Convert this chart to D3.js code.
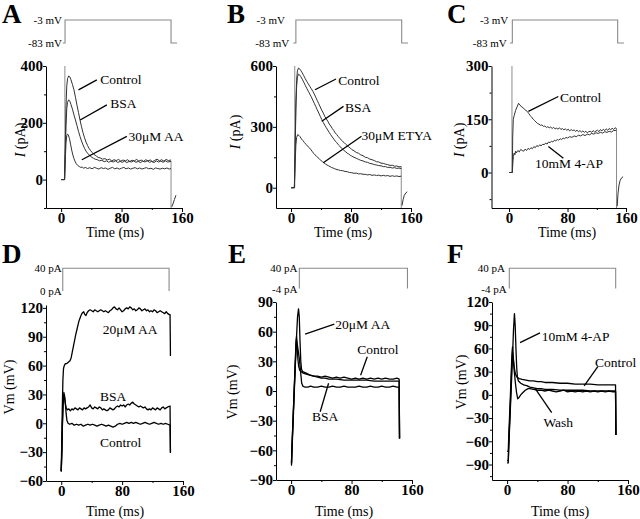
<!DOCTYPE html>
<html><head><meta charset="utf-8">
<script src="https://cdn.jsdelivr.net/npm/d3@7"></script>
<style>
body{margin:0;background:#fff}
svg{display:block}
text{font-family:"Liberation Serif","Times New Roman",serif;fill:#000}
</style>
</head><body>
<svg width="640" height="519"></svg>
<script>
// ---------------- DATA ----------------
const xTicks = [0, 80, 160];
const xMinor = [40, 120];
const yTicksA = [0, 200, 400],  yMinorA = [-100, 100, 300];
const yTicksB = [0, 300, 600],  yMinorB = [150, 450];
const yTicksC = [0, 150, 300],  yMinorC = [-75, 75, 225];
const yTicksD = [-60, -30, 0, 30, 60, 90, 120], yMinorD = [-45, -15, 15, 45, 75, 105];
const yTicksE = [-90, -60, -30, 0, 30, 60, 90], yMinorE = [-75, -45, -15, 15, 45, 75];
const yTicksF = [-90, -60, -30, 0, 30, 60, 90, 120], yMinorF = [-105, -75, -45, -15, 15, 45, 75, 105];

// Panel A: current (pA) vs time (ms)
const A_control = [[0,0],[4.5,0],[5.5,120],[6.5,260],[7.5,330],[8.5,355],[10,365],[11.5,362],[13,352],[15,335],[17,316],[19,290],[21,262],[23,236],[25,210],[27,186],[29,165],[31,147],[33,132],[35,120],[37,110],[39,102],[41,96],[43,90],[45,86],[47,82],[49,78],[52,76],[55,72],[58,74],[61,69],[64,72],[67,66],[70,70],[73,67],[76,71],[79,65],[82,69],[85,66],[88,70],[91,64],[94,68],[97,66],[100,71],[103,65],[106,69],[109,64],[112,70],[115,66],[118,69],[121,63],[124,68],[127,72],[130,66],[133,70],[136,65],[139,71],[142,67],[145.5,69]];
const A_bsa = [[0,0],[4.5,0],[5.5,90],[6.5,190],[7.5,250],[8.5,272],[10,281],[11.5,276],[13,265],[15,248],[17,228],[19,210],[21,190],[23,170],[25,152],[27,136],[29,122],[31,110],[33,100],[35,93],[37,87],[39,82],[41,78],[43,75],[45,72],[48,70],[51,66],[54,68],[57,63],[60,66],[63,61],[66,65],[69,62],[72,66],[75,60],[78,64],[81,61],[84,65],[87,60],[90,64],[93,62],[96,66],[99,61],[102,64],[105,60],[108,65],[111,62],[114,66],[117,61],[120,64],[123,60],[126,66],[129,62],[132,65],[135,61],[138,66],[141,62],[145.5,64]];
const A_aa = [[0,0],[4.5,0],[5.5,70],[6.5,130],[7.5,155],[8.5,160],[9.5,158],[11,145],[12.5,125],[14,104],[15.5,87],[17,74],[18.5,64],[20,56],[22,50],[24,46],[26,43],[28,44],[30,40],[32,43],[35,39],[38,42],[41,38],[44,43],[47,40],[50,37],[53,42],[56,39],[59,41],[62,36],[65,40],[68,43],[71,38],[74,41],[77,37],[80,40],[83,43],[86,38],[89,41],[92,37],[95,40],[98,42],[101,38],[104,41],[107,37],[110,40],[113,42],[116,38],[119,40],[122,36],[125,41],[128,39],[131,37],[134,40],[137,38],[140,41],[143,37],[145.5,39]];
const A_spike = [[5,0],[5,400]];
const A_off = [[145.5,66],[145.5,-100]];
const A_tail = [[146.5,-96],[148,-86],[150,-70],[152,-55]];
const A_proto = [[2.2,-83],[5.2,-83],[5.2,-3],[145.5,-3],[145.5,-83],[153.5,-83]];

// Panel B
const B_control = [[0,0],[4.5,0],[5.5,200],[6.5,420],[7.5,530],[8.5,575],[10,590],[11.5,586],[13,578],[15,566],[17,552],[19,538],[21,524],[23,512],[25,500],[27,488],[29,476],[31,462],[33,446],[35,430],[37,414],[39,398],[41,382],[43,368],[45,352],[47,340],[49,328],[51,314],[53,304],[55,292],[57,282],[59,270],[61,262],[63,252],[65,244],[67,235],[69,228],[71,222],[73,214],[75,208],[77,200],[79,196],[81,188],[84,182],[87,174],[90,170],[93,162],[96,158],[99,150],[102,148],[105,141],[108,138],[111,134],[114,128],[117,127],[120,121],[123,120],[126,116],[129,114],[132,110],[135,111],[138,106],[141,107],[144,103],[147,104]];
const B_bsa = [[0,0],[4.5,0],[5.5,180],[6.5,390],[7.5,500],[8.5,545],[10,560],[11.5,556],[13,548],[15,535],[17,520],[19,505],[21,490],[23,476],[25,462],[27,448],[29,432],[31,416],[33,400],[35,384],[37,368],[39,352],[41,336],[43,322],[45,308],[47,296],[49,284],[51,272],[53,261],[55,250],[57,240],[59,230],[61,222],[63,212],[65,205],[67,196],[69,190],[71,182],[73,177],[75,170],[77,166],[79,160],[81,156],[84,150],[87,145],[90,140],[93,135],[96,132],[99,127],[102,125],[105,120],[108,118],[111,114],[114,112],[117,109],[120,108],[123,104],[126,104],[129,100],[132,101],[135,97],[138,99],[141,95],[144,97],[147,94]];
const B_etya = [[0,0],[4.5,0],[5.5,120],[6.5,210],[7.5,248],[9,262],[10.5,258],[12,252],[14,240],[16,232],[18,222],[20,214],[22,206],[24,198],[26,190],[28,180],[30,170],[32,162],[34,155],[36,148],[38,141],[40,134],[42,128],[44,122],[46,117],[48,112],[50,108],[52,104],[54,100],[56,97],[58,94],[60,91],[63,88],[66,85],[69,84],[72,80],[75,79],[78,75],[81,74],[84,71],[87,72],[90,68],[93,69],[96,66],[99,66],[102,63],[105,65],[108,61],[111,63],[114,60],[117,62],[120,58],[123,61],[126,58],[129,60],[132,56],[135,59],[138,56],[141,58],[144,55],[147,57]];
const B_spike = [[5,0],[5,600]];
const B_off = [[147,104],[147,-100]];
const B_tail = [[148,-88],[149.5,-58],[151,-38],[153,-26],[155,-20]];
const B_proto = [[3,-83],[6.5,-83],[6.5,-3],[147.6,-3],[147.6,-83],[156,-83]];

// Panel C
const C_control = [[0,0],[4.5,0],[5,100],[5.8,150],[7,160],[9,175],[11,185],[13,195],[15,190],[17,185],[19,183],[21,178],[23,175],[25,172],[27,166],[29,160],[31,156],[33,150],[35,146],[37,142],[39,138],[41,136],[43,133],[45,134],[47,130],[49,131],[51,127],[53,129],[55,126],[57,128],[59,124],[61,127],[63,123],[65,125],[67,122],[69,126],[71,121],[73,124],[75,120],[77,123],[79,119],[81,122],[83,117],[85,121],[87,118],[89,120],[91,116],[93,119],[95,115],[97,118],[99,114],[101,117],[103,113],[105,116],[107,112],[109,115],[111,116],[113,113],[115,118],[117,114],[119,117],[121,119],[123,115],[125,121],[127,117],[129,122],[131,118],[133,123],[135,119],[137,124],[139,120],[141,125],[143,121],[145,126],[147,124]];
const C_4ap = [[0,0],[4.5,0],[5.3,30],[6,45],[7,55],[8,50],[9,60],[10,55],[12,62],[14,58],[16,65],[18,62],[20,60],[22,66],[24,62],[26,68],[28,65],[30,70],[32,67],[34,73],[36,70],[38,76],[40,73],[42,78],[44,75],[46,80],[48,78],[50,83],[52,80],[54,86],[56,84],[58,88],[60,86],[62,91],[64,89],[66,93],[68,91],[70,95],[72,93],[74,97],[76,95],[78,99],[80,97],[83,101],[86,99],[89,103],[92,101],[95,105],[98,103],[101,107],[104,104],[107,108],[110,106],[113,110],[116,108],[119,112],[122,110],[125,113],[128,111],[131,115],[134,113],[137,116],[140,114],[143,118],[147,119]];
const C_spike = [[4,0],[4,300]];
const C_off = [[147,124],[147,-100]];
const C_tail = [[148,-95],[149,-60],[150.5,-35],[152,-22],[154,-15],[156,-12]];
const C_proto = [[1.2,-83],[4.5,-83],[4.5,-3],[148.6,-3],[148.6,-83],[157.2,-83]];

// Panel D: membrane potential (mV)
const D_control = [[0,-50],[0.8,-30],[1.6,0],[2.5,20],[3.5,32],[4.5,28],[5.5,20],[6.5,10],[7.5,3],[9,0],[11,-1],[14,0],[17,-2],[20,-1],[23,-2],[26,-1],[29,-3],[32,-2],[35,-1],[38,-2],[41,-1],[44,-2],[47,-3],[50,-2],[53,-1],[56,-2],[59,-3],[62,-2],[65,-3],[68,-4],[71,-3],[74,-1],[77,0],[80,-1],[83,0],[86,1],[89,0],[92,1],[95,0],[98,1],[101,0],[104,-1],[107,0],[110,1],[113,0],[116,-1],[119,0],[122,1],[125,0],[128,-1],[131,0],[134,-1],[137,0],[140,-1],[143,-2],[143.5,-31]];
const D_bsa = [[0,-50],[0.8,-30],[1.6,0],[2.5,22],[3.5,30],[4.5,26],[5.5,20],[6.5,16],[8,14],[10,15],[12,13],[14,15],[16,14],[18,16],[20,15],[22,14],[24,16],[26,15],[28,14],[30,16],[32,15],[34,16],[36,17],[38,19],[40,16],[42,15],[44,17],[46,16],[48,15],[50,17],[52,16],[54,14],[56,15],[58,14],[60,13],[62,14],[64,16],[66,15],[68,14],[70,15],[72,17],[74,18],[76,17],[78,19],[80,18],[82,19],[84,17],[86,19],[88,20],[90,19],[92,21],[94,22],[96,20],[98,19],[100,18],[102,17],[104,18],[106,17],[108,16],[110,17],[112,15],[114,14],[116,15],[118,14],[120,16],[122,15],[124,14],[126,16],[128,15],[130,14],[132,16],[134,17],[136,15],[138,16],[140,17],[143,18],[143.5,-30]];
const D_aa = [[0,-50],[0.7,-20],[1.4,15],[2.2,45],[3,57],[4,60],[5.5,62],[7,62],[8.5,63],[10,64],[11.5,65],[13,68],[14.5,74],[16,80],[17.5,86],[19,92],[20.5,97],[22,102],[23.5,107],[25,110],[26.5,113],[28,115],[29.5,116],[31,113],[32.5,112],[34,115],[36,117],[38,118],[40,117],[42,116],[44,118],[46,117],[48,116],[50,117],[52,118],[54,117],[56,116],[58,117],[60,116],[62,115],[64,117],[66,118],[68,120],[70,121],[72,119],[74,118],[76,120],[78,118],[80,116],[82,117],[84,119],[86,120],[88,119],[90,121],[92,120],[94,118],[96,119],[98,117],[100,118],[102,120],[104,119],[106,117],[108,118],[110,119],[112,117],[114,118],[116,116],[118,117],[120,116],[122,118],[124,117],[126,115],[128,116],[130,117],[132,116],[134,115],[136,114],[138,116],[140,114],[142,113],[143,113],[143.5,70]];
const D_proto = [[2,0],[2,40],[141.7,40],[141.7,0]];

// Panel E
const E_aa = [[0,-75],[0.5,-75],[1.2,-60],[3,-25],[5,15],[7,52],[8.5,75],[9.8,83],[10.8,75],[11.8,50],[12.8,30],[13.8,22],[15,20],[17,19],[20,18],[25,16],[30,15],[35,14],[40,13],[45,13],[50,12],[55,12],[60,12],[70,11],[80,11],[90,11],[100,11],[110,10],[120,10],[130,10],[140,10],[143,10],[143.5,-48]];
const E_control = [[0,-73],[0.5,-73],[1.2,-55],[3,-20],[5,20],[6.5,50],[7.2,55],[8,45],[9,32],[10,25],[11.5,21],[13,20],[16,18],[20,17],[25,16],[30,15],[35,15],[40,14],[45,15],[50,14],[55,13],[60,14],[65,13],[70,14],[75,13],[80,12],[85,13],[90,12],[95,13],[100,12],[105,13],[110,12],[115,13],[120,12],[125,13],[130,12],[135,12],[140,13],[143,12],[143.5,-48]];
const E_bsa = [[0,-73],[0.5,-73],[1.2,-55],[3,-20],[5,18],[6.5,45],[7.2,52],[8,48],[9.5,40],[11,32],[12.5,20],[14,8],[15.5,5],[18,4],[22,4],[26,5],[30,4],[35,4],[40,5],[45,4],[50,4],[55,5],[60,4],[65,4],[70,5],[75,4],[80,4],[85,4],[90,5],[95,4],[100,4],[105,5],[110,4],[115,4],[120,5],[125,4],[130,4],[135,5],[140,4],[143,4],[143.5,-48]];
const E_proto = [[10.9,-4],[10.9,40],[154,40],[154,-4]];

// Panel F
const F_4ap = [[0,-88],[1.5,-88],[2.5,-60],[4,-25],[5.5,10],[7,45],[8.5,85],[9.7,105],[10.7,90],[11.7,60],[12.7,35],[13.7,22],[15,18],[18,15],[22,13],[26,12],[30,10],[35,9],[40,8],[45,8],[50,7],[60,7],[70,6],[80,6],[90,6],[100,6],[110,5],[120,5],[130,5],[140,5],[143.5,5],[144,-52]];
const F_control = [[0,-73],[1.5,-73],[2.5,-45],[4,-10],[5.5,30],[6.5,55],[7.2,62],[8,50],[9.5,35],[11,27],[13,23],[16,21],[20,20],[25,19],[30,18],[35,18],[40,17],[45,17],[50,16],[60,16],[70,15],[80,15],[90,14],[100,14],[110,14],[120,13],[130,13],[140,13],[143.5,13],[144,-52]];
const F_wash = [[0,-85],[1.5,-85],[2.5,-55],[4,-20],[5.5,20],[6.5,45],[7.3,55],[8.2,45],[9.5,30],[11,15],[12.5,3],[14,-5],[16,-3],[18,0],[20,2],[22,4],[24,6],[26,7],[28,8],[30,8],[35,7],[40,6],[45,6],[50,5],[55,6],[60,5],[65,4],[70,5],[75,6],[80,4],[85,5],[90,4],[95,5],[100,4],[105,5],[110,4],[115,5],[120,4],[125,5],[130,4],[135,5],[140,4],[143.5,4],[144,-52]];
const F_proto = [[2.9,-4],[2.9,40],[143.7,40],[143.7,-4]];

// Labels (text, t, value) and pointer lines (t1, v1, t2, v2)
const A_labels = [["Control",51.7,353],["BSA",65,269],["30\u03bcM AA",89.3,152]];
const A_pointers = [[23,316,47.3,351],[25.2,210,60.6,263],[27.4,70,87,152]];
const B_labels = [["Control",63,528],["BSA",72,393],["30\u03bcM ETYA",94,257]];
const B_pointers = [[32,483,60,536],[41,328,70,401],[43,123,94,254]];
const C_labels = [["Control",69.8,212],["10mM 4-AP",35.6,26]];
const C_pointers = [[26.4,172,67.4,214],[53.8,73,74.3,40]];
const D_labels = [["20\u03bcM AA",54.5,97.5],["BSA",51,28],["Control",51,-20]];
const D_pointers = [];
const E_labels = [["20\u03bcM AA",58.5,67.7],["Control",87.5,41.5],["BSA",27.5,-26]];
const E_pointers = [[18.5,57.6,57.2,67.7],[92,16,100.8,34.7],[38.5,-21,49.6,7.8]];
const F_labels = [["10mM 4-AP",45.8,76],["Control",116.3,41.6],["Wash",48,-36]];
const F_pointers = [[17.1,67.4,43.5,80],[102,11.5,120,36.4],[59,-23,37,8.5]];

const protoLevelsTop = ["-3 mV", "-83 mV"];
const protoLevelsD = ["40 pA", "0 pA"];
const protoLevelsEF = ["40 pA", "-4 pA"];

// ---------------- LAYOUT ----------------
const panels = [
  {letter:"A", lx:2, ly:23, xr:[46,182], yr:[208,66], xDom:[-20,160], yDom:[-100,400], yT:yTicksA, yM:yMinorA, ytitle:"I", yx:20, yy:140, tx:115, ty:232,
   traces:[A_control,A_bsa,A_aa,A_tail], thin:[A_spike,A_off], col:"#333", sw:1,
   labels:A_labels, pointers:A_pointers, proto:A_proto, pDom:[-83,-3], pR:[43,20], pLab:[[protoLevelsTop[0],1.2,-3],[protoLevelsTop[1],1.2,-83]]},
  {letter:"B", lx:227, ly:23, xr:[276,411], yr:[208,66], xDom:[-20,160], yDom:[-100,600], yT:yTicksB, yM:yMinorB, ytitle:"I", yx:235, yy:132, tx:343, ty:232,
   traces:[B_control,B_bsa,B_etya,B_tail], thin:[B_spike,B_off], col:"#333", sw:1,
   labels:B_labels, pointers:B_pointers, proto:B_proto, pDom:[-83,-3], pR:[43,20], pLab:[[protoLevelsTop[0],-8,-3],[protoLevelsTop[1],-2.3,-83]]},
  {letter:"C", lx:447, ly:23, xr:[491.5,626], yr:[208,66], xDom:[-24,160], yDom:[-100,300], yT:yTicksC, yM:yMinorC, ytitle:"I", yx:459, yy:140, tx:567, ty:232,
   traces:[C_control,C_4ap,C_tail], thin:[C_spike,C_off], col:"#333", sw:1,
   labels:C_labels, pointers:C_pointers, proto:C_proto, pDom:[-83,-3], pR:[43,20], pLab:[[protoLevelsTop[0],-1,-3],[protoLevelsTop[1],-3.1,-83]]},
  {letter:"D", lx:2, ly:263, xr:[46,183], yr:[481,305], xDom:[-20,160], yDom:[-60,123], yT:yTicksD, yM:yMinorD, ytitle:"Vm", yx:9, yy:387, tx:115, ty:511,
   traces:[D_control,D_bsa,D_aa], thin:[], col:"#000", sw:1.3,
   labels:D_labels, pointers:D_pointers, proto:D_proto, pDom:[0,40], pR:[291,268.3], pLab:[[protoLevelsD[0],0.7,40],[protoLevelsD[1],0.7,0]]},
  {letter:"E", lx:228, ly:263, xr:[276,412], yr:[480,302], xDom:[-20,160], yDom:[-90,90], yT:yTicksE, yM:yMinorE, ytitle:"Vm", yx:232, yy:392, tx:344, ty:511,
   traces:[E_control,E_bsa,E_aa], thin:[], col:"#000", sw:1.3,
   labels:E_labels, pointers:E_pointers, proto:E_proto, pDom:[-4,40], pR:[288.5,268.3], pLab:[[protoLevelsEF[0],8.3,40],[protoLevelsEF[1],8.3,-4]]},
  {letter:"F", lx:447, ly:263, xr:[492,628], yr:[480,302], xDom:[-20,160], yDom:[-110,120], yT:yTicksF, yM:yMinorF, ytitle:"Vm", yx:461, yy:382, tx:560, ty:511,
   traces:[F_control,F_wash,F_4ap], thin:[], col:"#000", sw:1.3,
   labels:F_labels, pointers:F_pointers, proto:F_proto, pDom:[-4,40], pR:[288.5,268.3], pLab:[[protoLevelsEF[0],-2.8,40],[protoLevelsEF[1],-0.5,-4]]}
];

const FONT = '"Liberation Serif","Times New Roman",serif';
const svg = d3.select("svg");

panels.forEach(p => {
  const g = svg.append("g");
  const x = d3.scaleLinear().domain(p.xDom).range(p.xr);
  const y = d3.scaleLinear().domain(p.yDom).range(p.yr);
  const py = d3.scaleLinear().domain(p.pDom).range(p.pR);

  // axes
  const xa = g.append("g").attr("transform", `translate(0,${p.yr[0]})`)
    .call(d3.axisBottom(x).tickValues(xTicks).tickSize(4).tickPadding(0).tickSizeOuter(0));
  g.append("g").attr("transform", `translate(0,${p.yr[0]})`)
    .call(d3.axisBottom(x).tickValues(xMinor).tickSize(2).tickFormat("").tickSizeOuter(0))
    .select(".domain").remove();
  const ya = g.append("g").attr("transform", `translate(${p.xr[0]},0)`)
    .call(d3.axisLeft(y).tickValues(p.yT).tickSize(3).tickPadding(0).tickSizeOuter(0));
  g.append("g").attr("transform", `translate(${p.xr[0]},0)`)
    .call(d3.axisLeft(y).tickValues(p.yM).tickSize(2).tickFormat("").tickSizeOuter(0))
    .select(".domain").remove();
  [xa, ya].forEach(a => a.attr("font-family", FONT).attr("font-size", 15).attr("font-weight", "bold"));
  g.selectAll(".domain, .tick line").attr("stroke", "#000").attr("stroke-width", 1);

  // protocol
  g.append("path").datum(p.proto)
    .attr("d", d3.line().x(d => x(d[0])).y(d => py(d[1])))
    .attr("fill", "none").attr("stroke", "#8a8a8a").attr("stroke-width", 1.1);
  g.selectAll(".plab").data(p.pLab).join("text")
    .attr("x", d => x(d[1])).attr("y", d => py(d[2]))
    .attr("text-anchor", "end").attr("dominant-baseline", "central")
    .attr("font-size", 11).text(d => d[0]);

  const line = d3.line().x(d => x(d[0])).y(d => y(d[1]));
  // thin transients
  g.selectAll(".thin").data(p.thin).join("path")
    .attr("d", line).attr("fill", "none").attr("stroke", "#8c8c8c").attr("stroke-width", 1);
  // traces
  g.selectAll(".trace").data(p.traces).join("path")
    .attr("d", line).attr("fill", "none").attr("stroke", p.col)
    .attr("stroke-width", p.sw).attr("stroke-linejoin", "round");

  // pointers
  g.selectAll(".ptr").data(p.pointers).join("line")
    .attr("x1", d => x(d[0])).attr("y1", d => y(d[1]))
    .attr("x2", d => x(d[2])).attr("y2", d => y(d[3]))
    .attr("stroke", "#000").attr("stroke-width", 1.3);
  g.selectAll(".lab").data(p.labels).join("text")
    .attr("x", d => x(d[1])).attr("y", d => y(d[2]))
    .attr("dominant-baseline", "central").attr("font-size", 13.5).text(d => d[0]);

  // titles
  g.append("text").attr("x", p.tx).attr("y", p.ty).attr("text-anchor", "middle")
    .attr("dominant-baseline", "central").attr("font-size", 14).text("Time (ms)");
  const yt = g.append("text").attr("transform", `translate(${p.yx},${p.yy}) rotate(-90)`)
    .attr("text-anchor", "middle").attr("dominant-baseline", "central").attr("font-size", 14);
  if (p.ytitle === "I") {
    yt.append("tspan").attr("font-style", "italic").text("I");
    yt.append("tspan").text(" (pA)");
  } else {
    yt.text("Vm (mV)");
  }
  // panel letter
  g.append("text").attr("x", p.lx).attr("y", p.ly).attr("font-size", 27)
    .attr("font-weight", "bold").text(p.letter);
});
</script>
</body></html>
